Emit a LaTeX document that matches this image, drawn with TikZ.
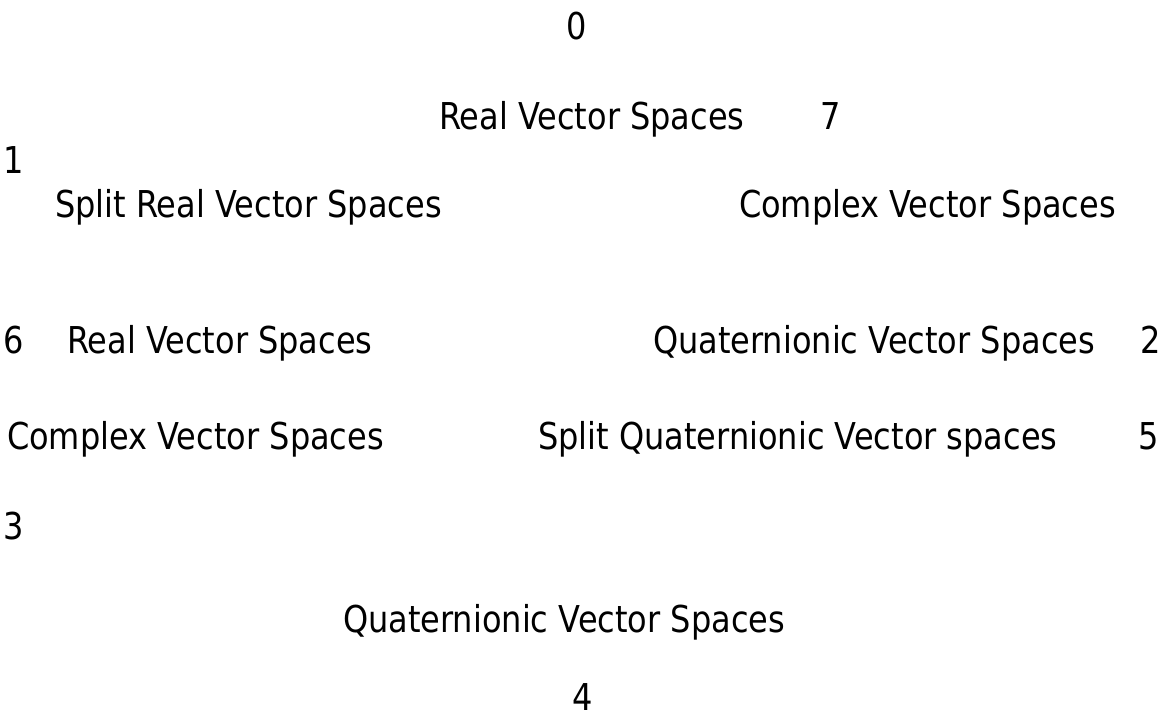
\documentclass[tikz,border=0pt]{standalone}
\usepackage{fontspec}
\setmainfont[FakeStretch=0.865]{DejaVu Sans}
\begin{document}
\begin{tikzpicture}[x=1pt,y=-1pt,
  lbl/.style={anchor=base west,inner sep=0pt,outer sep=0pt,font=\fontsize{37}{44}\selectfont}]
\useasboundingbox (0,0) rectangle (1166,717);
\node[lbl] (n0)  at (566,40)  {0};
\node[lbl] (rv1) at (439,129) {Real Vector Spaces};
\node[lbl] (n7)  at (820,129) {7};
\node[lbl] (n1)  at (4,173)   {1};
\node[lbl] (srv) at (55,217)  {Split Real Vector Spaces};
\node[lbl] (cv1) at (739,217) {Complex Vector Spaces};
\node[lbl] (n6)  at (4,353)   {6};
\node[lbl] (rv2) at (67,353)  {Real Vector Spaces};
\node[lbl] (qv1) at (653,353) {Quaternionic Vector Spaces};
\node[lbl] (n2)  at (1140,353) {2};
\node[lbl] (cv2) at (7,449)   {Complex Vector Spaces};
\node[lbl] (sqv) at (538,449) {Split Quaternionic Vector spaces};
\node[lbl] (n5)  at (1138,449) {5};
\node[lbl] (n3)  at (4,539)   {3};
\node[lbl] (qv2) at (343,632) {Quaternionic Vector Spaces};
\node[lbl] (n4)  at (572,710) {4};
\end{tikzpicture}
\end{document}
